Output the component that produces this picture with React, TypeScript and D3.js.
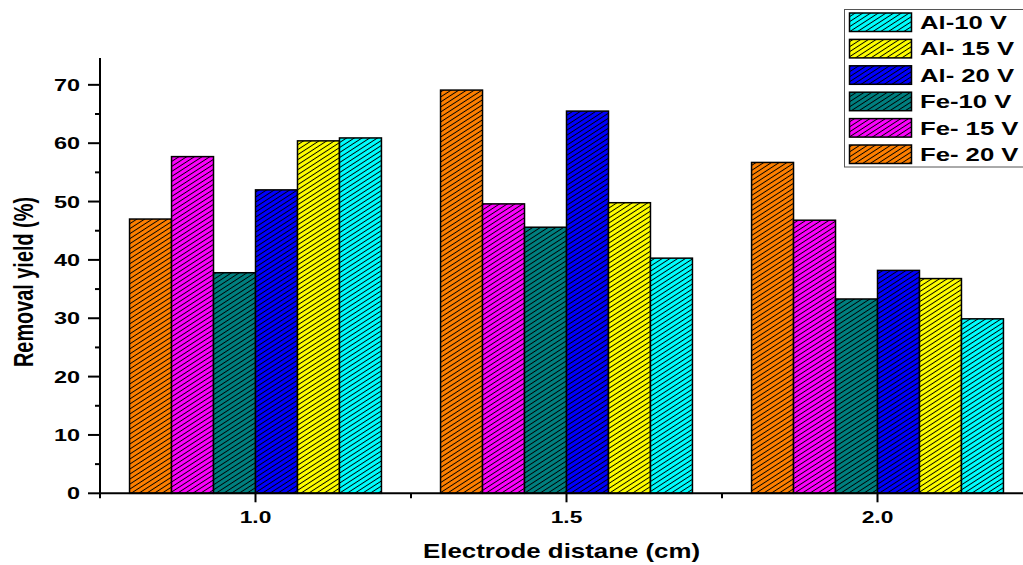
import React from 'react';
import { scaleLinear, scaleBand, range } from 'd3';

// categories (electrode distance, cm)
const distances = [1.0, 1.5, 2.0];
const distanceLabels = ['1.0', '1.5', '2.0'];

// series values (removal yield, %)
const al10 = [60.9, 40.3, 29.9];
const al15 = [60.4, 49.8, 36.8];
const al20 = [52.0, 65.5, 38.2];
const fe10 = [37.8, 45.6, 33.3];
const fe15 = [57.7, 49.6, 46.8];
const fe20 = [47.0, 69.1, 56.7];

// legend order
const seriesNames = ['Al-10 V', 'Al- 15 V', 'Al- 20 V', 'Fe-10 V', 'Fe- 15 V', 'Fe- 20 V'];
const seriesValues = [al10, al15, al20, fe10, fe15, fe20];
const seriesColors = ['#00FFFF', '#FFFF00', '#0000FF', '#008080', '#FF00FF', '#FF8000'];
// bars are drawn left to right in reverse legend order
const barOrder = ['Fe- 20 V', 'Fe- 15 V', 'Fe-10 V', 'Al- 20 V', 'Al- 15 V', 'Al-10 V'];

const yTickLabels = [0, 10, 20, 30, 40, 50, 60, 70];

const W = 1023;
const H = 565;
const FONT = 'Liberation Sans, Arial, sans-serif';
const SX = 1.38; // horizontal stretch of the text

const App = () => {
  const x = scaleLinear().domain([0.75, 2.25]).range([100, 1033]);
  const y = scaleLinear().domain([0, 74.6]).range([493.3, 58]);
  const groupWidth = 0.405;

  const yMinor = range(5, 75, 10);
  const xMinor = [0.75, 1.25, 1.75];

  return (
    <svg width={W} height={H} style={{ position: 'absolute', left: 0, top: 0, background: '#fff' }}>
      <defs>
        {seriesNames.map((name, i) => (
          <pattern
            key={name}
            id={`hatch${i}`}
            patternUnits="userSpaceOnUse"
            width={8}
            height={4.2}
            patternTransform="rotate(-33)"
          >
            <rect width={8} height={4.2} fill={seriesColors[i]} />
            <line x1={0} x2={8} y1={2.1} y2={2.1} stroke="#000" strokeWidth={0.95} />
          </pattern>
        ))}
      </defs>

      {/* bars */}
      {distances.map((d, ci) => {
        const band = scaleBand<string>()
          .domain(barOrder)
          .range([x(d - groupWidth / 2), x(d + groupWidth / 2)]);
        return (
          <g key={d}>
            {barOrder.map((name) => {
              const si = seriesNames.indexOf(name);
              const v = seriesValues[si][ci];
              return (
                <rect
                  key={name}
                  x={band(name)}
                  y={y(v)}
                  width={band.bandwidth()}
                  height={y(0) - y(v)}
                  fill={`url(#hatch${si})`}
                  stroke="#000"
                  strokeWidth={1.5}
                />
              );
            })}
          </g>
        );
      })}

      {/* y axis */}
      <line x1={100} x2={100} y1={y(74.6)} y2={y(0) + 1} stroke="#000" strokeWidth={2} />
      {yTickLabels.map((t) => (
        <g key={t}>
          <line x1={88} x2={100} y1={y(t)} y2={y(t)} stroke="#000" strokeWidth={2} />
          <text
            transform={`translate(80,${y(t) + 6}) scale(${SX},1)`}
            textAnchor="end"
            fontFamily={FONT}
            fontWeight="bold"
            fontSize={17}
          >
            {t}
          </text>
        </g>
      ))}
      {yMinor.map((t) => (
        <line key={t} x1={95} x2={100} y1={y(t)} y2={y(t)} stroke="#000" strokeWidth={2} />
      ))}

      {/* x axis */}
      <line x1={99} x2={W} y1={y(0)} y2={y(0)} stroke="#000" strokeWidth={2} />
      {distances.map((d, i) => (
        <g key={d}>
          <line x1={x(d)} x2={x(d)} y1={y(0)} y2={y(0) + 9} stroke="#000" strokeWidth={2} />
          <text
            transform={`translate(${x(d)},523) scale(${SX},1)`}
            textAnchor="middle"
            fontFamily={FONT}
            fontWeight="bold"
            fontSize={16.5}
          >
            {distanceLabels[i]}
          </text>
        </g>
      ))}
      {xMinor.map((d) => (
        <line key={d} x1={x(d)} x2={x(d)} y1={y(0)} y2={y(0) + 5} stroke="#000" strokeWidth={2} />
      ))}

      {/* axis titles */}
      <text
        x={561.5}
        y={558}
        textAnchor="middle"
        fontFamily={FONT}
        fontWeight="bold"
        fontSize={20.5}
        textLength={277}
        lengthAdjust="spacingAndGlyphs"
      >
        Electrode distane (cm)
      </text>
      <text
        transform="translate(33,282) rotate(-90)"
        textAnchor="middle"
        fontFamily={FONT}
        fontWeight="bold"
        fontSize={27}
        textLength={170}
        lengthAdjust="spacingAndGlyphs"
      >
        Removal yield (%)
      </text>

      {/* legend */}
      <rect x={844.5} y={9.5} width={200} height={157.5} fill="#fff" stroke="#555" strokeWidth={1} />
      {seriesNames.map((name, i) => {
        const ly = 13 + i * 26.4;
        return (
          <g key={name}>
            <rect
              x={849.5}
              y={ly}
              width={62}
              height={18.5}
              fill={`url(#hatch${i})`}
              stroke="#000"
              strokeWidth={1.5}
            />
            <text
              transform={`translate(920,${ly + 16}) scale(${SX},1)`}
              fontFamily={FONT}
              fontWeight="bold"
              fontSize={18.6}
            >
              {name}
            </text>
          </g>
        );
      })}
    </svg>
  );
};

export default App;
